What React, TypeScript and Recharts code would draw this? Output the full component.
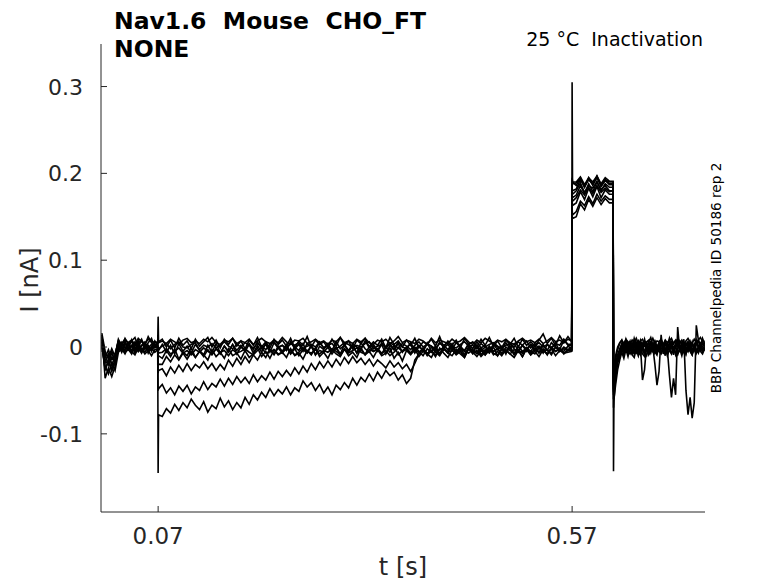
import React from 'react';
import { LineChart, Line, XAxis, YAxis } from 'recharts';

// sampling grid (s): pre-pulse, step edges, conditioning, test, tail
const range = (start: number, step: number, n: number) =>
  Array.from({ length: n }, (_, i) => +(start + i * step).toFixed(4));

const tGrid = [
  ...range(0.002, 0.004, 17),
  0.0695, 0.07, 0.0705,
  ...range(0.075, 0.005, 99),
  0.5695, 0.57, 0.5705,
  ...range(0.575, 0.005, 9),
  0.6195, 0.62, 0.6205,
  ...range(0.6225, 0.0025, 43),
  0.73,
];

// current of each sweep in pA, one value per grid point
const sweepA = [
  14, -36, -24, -34, -22, 6, -4, 7, -2, 8, -5, 4, 9, -3, 5, 10, -1,
  1, -145, -78,
  -80, -71, -76, -66, -73, -64, -70, -60, -67, -72,
  -63, -75, -67, -71, -59, -69, -62, -72, -64, -70,
  -58, -66, -55, -61, -52, -58, -48, -56, -49, -54,
  -46, -55, -47, -51, -39, -46, -41, -50, -43, -53,
  -46, -55, -44, -49, -41, -47, -36, -44, -35, -40,
  -31, -39, -29, -36, -27, -33, -29, -38, -32, -42,
  -36, -15, -8, -1, -9, 0, -6, -10, -2, -7,
  1, -8, -4, -11, -1, -6, 2, -9, -3, -7,
  0, -10, -2, -6, 1, -8, -3, -11, -1, -5,
  2, -7, -2, -9, 0, -5, -1, -8, -3,
  -3, 305, 190,
  186, 195, 184, 193, 187, 196, 185, 192, 188,
  188, -143, -62,
  -36, -18, -10, 2, -7, 5, -4, 3, -8, 6, -3, 4, -9, 1, 6, -5, 7, -3, 4, -6,
  2, -4, 6, -2, -7, 4, -3, 5, -6, 2, 7, -4, 1, 5, -5, 3, -2, 6, -4, 3, 8, -2, 4, 1,
];

const sweepB = [
  6, -27, -15, -28, -18, -3, 5, -6, 4, -4, 2, 7, -5, 3, -7, 1, 4,
  -2, -50, -48,
  -43, -53, -47, -55, -45, -51, -44, -54, -46, -50,
  -40, -49, -42, -46, -37, -45, -36, -43, -34, -41,
  -35, -42, -32, -40, -33, -38, -29, -37, -28, -34,
  -27, -33, -24, -31, -22, -29, -19, -26, -17, -24,
  -16, -23, -14, -21, -12, -19, -11, -18, -13, -20,
  -14, -22, -15, -19, -24, -16, -23, -18, -25, -20,
  -28, -19, -8, -2, -10, -4, -11, -1, -7, -12,
  -3, -9, -5, -12, -2, -8, -4, -11, -6, -1,
  -9, -5, -10, -3, -8, -12, -4, -7, -1, -9,
  -5, -11, -3, -8, -2, -10, -4, -7, -6,
  -5, 160, 152,
  156, 168, 163, 173, 165, 176, 168, 174, 170,
  170, -60, -50,
  -30, -17, -12, -2, -9, 1, -8, 2, -7, -1, 3, -9, -2, 4, -6, -10, 0, -7, 2, -5,
  -9, 1, -6, -1, -10, 2, -4, -8, 1, -9, -2, 3, -6, 0, -8, 1, -4, -9, 2, -3, -7, 4, -6, -1,
];

const sweepC = [
  -4, -9, -20, -6, -19, 3, -6, 5, -2, -8, 4, -5, 2, 6, -3, -1, 3,
  1, -30, -27,
  -25, -33, -23, -30, -21, -28, -19, -27, -20, -24,
  -17, -25, -19, -27, -20, -26, -15, -22, -13, -20,
  -11, -18, -9, -15, -6, -12, -3, -9, -1, -7,
  0, -8, -2, -10, -3, -7, 1, -9, -4, -6,
  0, -8, -1, -10, -2, -6, 2, -7, -3, -9,
  1, -5, -2, -8, 0, -6, 2, -9, -4, -1,
  -7, 0, -5, -10, -2, -6, 1, -8, -3, -5,
  2, -6, -1, -9, 0, -4, -8, -2, -6, 1,
  -5, -2, -8, 0, -4, -7, 1, -5, -3, -9,
  -1, -6, 2, -4, -7, 0, -3, -5, 1,
  -2, 175, 172,
  175, 186, 177, 188, 179, 190, 181, 186, 180,
  180, -50, -42,
  -24, -14, -6, 1, 5, -4, 6, -3, 3, -6, 5, -2, 4, -5, 7, -1, -4, 5, -2, 6,
  -5, 3, 4, -4, 6, -2, 5, -1, -5, 4, 7, -3, 2, -4, 5, -1, 6, -5, 3, 8, 0, -3, 6, 2,
];

const sweepD = [
  3, -12, -3, -14, -8, 7, -1, -3, 5, 8, -4, 6, -6, 3, 2, -5, 7,
  3, -18, -20,
  -20, -11, -17, -9, -15, -7, -14, -6, -12, -5,
  -11, -3, -9, -2, -8, 1, -6, 3, -4, 2,
  -5, 4, -3, 6, -2, 3, -6, 5, -1, 2,
  -4, 6, -2, 3, -5, 4, 0, -3, 5, -1,
  3, -4, 6, -2, 2, -5, 4, 0, -3, 7,
  -1, 3, -4, 5, -2, 4, -3, 6, 0, -2,
  5, -3, 2, -5, 4, 1, -4, 6, -1, 3,
  -3, 5, 0, -4, 4, -2, 6, -1, 2, -5,
  3, 0, -3, 5, -2, 4, -4, 2, 7, -1,
  4, -2, 3, -4, 5, 0, -3, 8, 2,
  2, 182, 180,
  182, 193, 184, 195, 186, 197, 185, 192, 187,
  187, -45, -35,
  -20, -10, -4, 3, -5, 5, -3, 4, -6, 2, 5, -4, 2, -38, -26, 4, -3, 6, -4, 3,
  -5, 4, -1, -3, 5, -4, 3, 6, -5, 1, 4, -3, 5, -4, 2, 6, -2, 4, -5, 7, -1, 4, -4, 2,
];

const sweepE = [
  16, -5, -13, -2, -11, 9, 1, 10, 3, 7, 11, 0, 8, 2, 12, 5, 1,
  5, 35, 6,
  9, 0, 8, -1, 10, 2, 7, -2, 9, 1,
  6, 11, 0, 8, -1, 9, 3, 10, 1, 7,
  -2, 8, 2, 11, 0, 6, -1, 9, 3, 8,
  1, 10, -1, 7, 2, 12, 0, 8, 3, 6,
  -1, 9, 1, 11, 2, 7, -2, 8, 4, 10,
  0, 6, 2, 9, -1, 11, 3, 7, 0, 8,
  2, 10, -1, 6, 3, 9, 1, 12, 0, 7,
  2, 8, -1, 10, 3, 6, 0, 9, 2, 11,
  1, 7, -1, 8, 3, 10, 0, 9, 2, 6,
  1, 8, 15, 4, 10, 2, 13, 5, 12,
  6, 195, 190,
  190, 196, 187, 195, 190, 197, 188, 195, 191,
  191, -40, -30,
  -14, -3, 4, 8, -1, 9, 2, 7, -1, 10, 3, 0, 8, 1, 9, -1, 6, 11, 2, 7,
  0, 5, 9, 1, 6, 2, 10, 0, 5, 8, 1, 7, 2, 9, -50, -78, -58, -82, -64, 25, 8, 1, 10, 4,
];

const sweepF = [
  8, -18, -8, -21, -10, 0, -5, 4, -3, 2, -7, 3, -2, -6, 0, -4, 1,
  -1, -8, -4,
  3, -6, 2, -8, 4, -5, 1, -7, 3, -4,
  -9, 2, -6, 4, -7, 1, -5, 3, -8, 0,
  -4, 3, -7, 2, -6, 5, -3, -8, 1, -5,
  3, -7, 0, -4, 4, -6, 2, -9, 1, -3,
  4, -5, 0, -8, 3, -4, 2, -7, 5, -2,
  -6, 1, -5, 3, -8, 2, -3, 4, -6, 0,
  3, -7, 1, -4, 5, -5, 0, -8, 2, -3,
  4, -6, 1, -5, 3, -7, 2, -4, 0, -6,
  3, -3, 1, -8, 4, -2, -6, 2, -5, 3,
  -4, 1, -7, 3, -2, 5, -5, 0, -3,
  0, 168, 163,
  166, 179, 170, 183, 173, 185, 172, 181, 176,
  176, -55, -45,
  -28, -15, -9, 0, -7, 2, -5, 1, -4, -8, 3, -5, -9, 1, -6, 2, -9, -1, -5, 3,
  -7, 0, -6, 2, -4, -2, -32, -58, -36, -55, 23, -4, 3, -6, 0, -5, 4, -7, 2, -3, -6, 3, -5, 0,
];

const sweepG = [
  0, -22, -31, -18, -27, -6, -2, -8, 0, -5, -9, -1, -7, 1, -4, -10, -3,
  -2, -12, -10,
  -13, -4, -11, -2, -14, -6, -10, -1, -12, -5,
  -9, -15, -3, -11, -6, -13, -2, -10, -7, -14,
  -4, -12, -8, -1, -11, -5, -13, -3, -9, -6,
  -12, -2, -10, -7, -14, -4, -9, -1, -11, -6,
  -13, -3, -8, -11, -2, -10, -6, -12, -1, -9,
  -5, -12, -3, -10, -7, -1, -13, -6, -16, -4,
  -9, -2, -11, -5, -8, -12, -3, -9, -1, -7,
  -10, -3, -8, -12, -2, -6, -11, -4, -9, -1,
  -7, -10, -3, -6, -1, -9, -4, -11, -2, -5,
  -8, -1, -6, -3, -9, 0, -5, -2, -4,
  -4, 152, 148,
  150, 165, 158, 170, 162, 172, 164, 171, 166,
  166, -70, -60,
  -44, -26, -15, -6, -13, -3, -11, -1, -9, -12, -2, -10, 0, -8, -11, -1, -9, -4, 0, -20,
  -44, -28, 14, -8, -1, -10, -3, 0, -9, 1, -7, -2, -10, 0, -8, 2, -5, -9, 0, -7, 1, -5, -8, -2,
];

const sweepH = [
  10, -16, -20, -12, -17, 2, 5, -1, 3, 0, 6, -2, 1, 4, -1, 3, 0,
  2, 0, -2,
  1, 4, -2, 3, 6, 0, -1, 3, 5, -3,
  2, 0, 4, -1, 2, 6, 1, -2, 3, 0,
  5, 2, -1, 4, 1, -3, 3, 6, 0, 2,
  -1, 4, 2, 5, -2, 1, 3, 0, 6, -1,
  2, 4, -2, 1, 5, 3, -1, 2, 0, 4,
  6, -2, 1, 3, 0, 5, 2, -1, 4, 1,
  -3, 2, 6, 0, 3, 1, -2, 4, 2, 5,
  0, -1, 3, 6, 1, 2, -2, 4, 0, 3,
  5, 1, -1, 2, 4, 0, 6, 2, -2, 3,
  1, 5, 0, 3, -1, 4, 2, 9, 3,
  3, 178, 176,
  180, 189, 178, 186, 183, 191, 180, 188, 184,
  184, -48, -38,
  -20, -9, -2, 4, 1, 6, -1, 3, 5, 0, 2, 7, -2, 3, 1, 5, -1, 4, 2, 6,
  -3, 1, 4, 0, 5, 2, -1, 6, 3, 0, 4, 1, -2, 5, 2, 6, 0, 3, -1, 4, 7, 2, 0, 5,
];

const sweepI = [
  2, -25, -17, -26, -14, -4, -1, -6, -3, -7, 0, -5, -2, -8, -4, -1, -6,
  -3, -6, -7,
  -6, -2, -8, -5, -1, -7, -4, -9, -3, -6,
  -1, -5, -8, -2, -6, -4, -10, -3, -7, -5,
  -2, -6, -9, -4, -1, -7, -5, -3, -8, -6,
  -2, -4, -9, -6, -1, -5, -7, -3, -8, -4,
  -6, -2, -5, -9, -3, -7, -4, -1, -6, -8,
  -3, -5, -2, -7, -4, -10, -6, -1, -5, -3,
  -8, -4, -6, -2, -7, -5, -9, -3, -1, -6,
  -4, -8, -2, -5, -7, -3, -6, -1, -9, -4,
  -5, -2, -7, -4, -8, -3, -6, -5, -1, -7,
  -3, -6, -4, -8, -2, -5, -3, -7, -4,
  -4, 170, 168,
  172, 181, 175, 184, 177, 186, 178, 183, 179,
  180, -52, -44,
  -26, -15, -8, -3, -6, -1, -5, -8, -2, -4, -7, -1, -5, -3, -9, -2, -6, -4, -1, -7,
  -3, -5, -8, -2, -6, -4, -1, -7, -3, -5, -9, -2, -4, -6, -1, -5, -3, -7, -2, -4, -6, -1, -5, -3,
];

const sweepJ = [
  12, -8, -11, -6, -9, 7, 4, 9, 5, 8, 3, 10, 6, 4, 9, 7, 5,
  6, 4, 5,
  7, 4, 9, 6, 3, 8, 10, 5, 7, 4,
  9, 6, 11, 5, 3, 8, 6, 10, 4, 7,
  5, 9, 3, 7, 10, 6, 4, 8, 5, 11,
  6, 3, 8, 7, 10, 4, 6, 9, 5, 7,
  3, 8, 6, 11, 5, 7, 4, 9, 6, 10,
  5, 3, 8, 6, 9, 4, 7, 12, 5, 8,
  6, 4, 9, 7, 3, 10, 5, 8, 6, 4,
  9, 5, 7, 11, 6, 3, 8, 5, 10, 7,
  4, 8, 6, 9, 5, 3, 7, 10, 6, 8,
  5, 9, 4, 7, 11, 6, 8, 5, 9,
  7, 186, 188,
  189, 194, 186, 193, 188, 195, 187, 193, 190,
  190, -42, -32,
  -10, 0, 5, 8, 4, 9, 6, 3, 8, 5, 10, 4, 7, 9, 3, 6, 8, 5, 10, 4,
  7, 6, 9, 3, 8, 5, 7, 10, 4, 6, 9, 5, 8, 3, 7, 10, 6, 4, 9, 5, 8, 11, 6, 7,
];

const sweeps = [sweepA, sweepB, sweepC, sweepD, sweepE, sweepF, sweepG, sweepH, sweepI, sweepJ];

const yTicks = [-0.1, 0, 0.1, 0.2, 0.3];
const xTicks = [0.07, 0.57];

const data = tGrid.map((t, i) => {
  const row: Record<string, number> = { t };
  sweeps.forEach((s, j) => {
    if (s[i] !== undefined) row['s' + j] = s[i] / 1000;
  });
  return row;
});

const FONT = 'DejaVu Sans, sans-serif';
const INK = '#262626';

const YTick = (props: any) => {
  const { x, y, payload } = props;
  return (
    <g>
      <line x1={x + 18} y1={y} x2={x + 24} y2={y} stroke={INK} strokeWidth={1} />
      <text x={x} y={y} dy={8} textAnchor="end" fontSize={22} fontFamily={FONT} fill={INK}>
        {String(payload.value)}
      </text>
    </g>
  );
};

const XTick = (props: any) => {
  const { x, y, payload } = props;
  return (
    <g>
      <line x1={x} y1={y} x2={x} y2={y - 6} stroke={INK} strokeWidth={1} />
      <text x={x} y={y + 32} textAnchor="middle" fontSize={23} fontFamily={FONT} fill={INK}>
        {String(payload.value)}
      </text>
    </g>
  );
};

export default function App() {
  return (
    <div style={{ position: 'fixed', left: 0, top: 0, width: 778, height: 583, background: '#fff', fontFamily: FONT }}>
      <LineChart width={778} height={583} data={data} margin={{ top: 44, right: 73, bottom: 31, left: 41 }}>
        <XAxis
          dataKey="t"
          type="number"
          domain={[0.001, 0.7305]}
          ticks={xTicks}
          allowDataOverflow
          height={40}
          tickSize={0}
          tickMargin={0}
          tickLine={false}
          tick={<XTick />}
          axisLine={{ stroke: INK, strokeWidth: 1 }}
        />
        <YAxis
          type="number"
          domain={[-0.19, 0.349]}
          ticks={yTicks}
          allowDataOverflow
          width={60}
          tickSize={0}
          tickMargin={18}
          tickLine={false}
          tick={<YTick />}
          axisLine={{ stroke: INK, strokeWidth: 1 }}
        />
        {sweeps.map((_, j) => (
          <Line
            key={j}
            dataKey={'s' + j}
            type="linear"
            stroke="#000"
            strokeWidth={1.6}
            dot={false}
            activeDot={false}
            isAnimationActive={false}
          />
        ))}
      </LineChart>
      <div style={{ position: 'absolute', left: 114, top: 7, fontSize: 23.5, fontWeight: 'bold', color: '#000', lineHeight: '28px', whiteSpace: 'pre' }}>
        {'Nav1.6  Mouse  CHO_FT\nNONE'}
      </div>
      <div style={{ position: 'absolute', right: 75, top: 28, fontSize: 19, color: '#000', whiteSpace: 'pre' }}>
        {'25 °C  Inactivation'}
      </div>
      <div
        style={{
          position: 'absolute', left: 716, top: 278, fontSize: 13.6, color: '#000', whiteSpace: 'pre',
          transform: 'translate(-50%, -50%) rotate(-90deg)',
        }}
      >
        BBP Channelpedia ID 50186 rep 2
      </div>
      <div
        style={{
          position: 'absolute', left: 30, top: 280, fontSize: 24, color: INK, whiteSpace: 'pre',
          transform: 'translate(-50%, -50%) rotate(-90deg)',
        }}
      >
        I [nA]
      </div>
      <div style={{ position: 'absolute', left: 403, top: 567, fontSize: 24, color: INK, transform: 'translate(-50%, -50%)', whiteSpace: 'pre' }}>
        t [s]
      </div>
    </div>
  );
}
